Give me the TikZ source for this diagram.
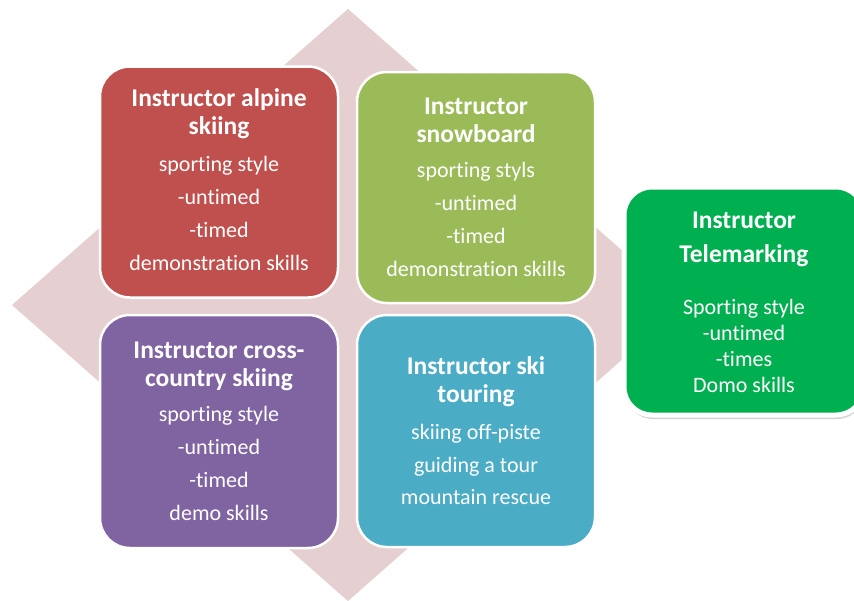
\documentclass[tikz,border=0pt]{standalone}
\usepackage{fontspec}
\setmainfont{Carlito}[Ligatures=NoCommon]
\usetikzlibrary{positioning, shadows}
\definecolor{diamondpink}{RGB}{230,207,208}
\definecolor{alpinered}{RGB}{192,80,77}
\definecolor{boardgreen}{RGB}{155,187,89}
\definecolor{crosspurple}{RGB}{128,100,162}
\definecolor{touringblue}{RGB}{75,172,198}
\definecolor{telegreen}{RGB}{0,176,80}

\begin{document}
\begin{tikzpicture}[x=1pt, y=-1pt,
    ibox/.style={draw=white, line width=2.5pt, rounded corners=30pt,
                 minimum width=238pt, minimum height=231pt},
    ititle/.style={text=white, align=center, inner sep=0pt,
                   font=\fontsize{25.5}{28}\selectfont\bfseries},
    ibody/.style={text=white, align=center, inner sep=0pt,
                  font=\fontsize{22}{33}\selectfont}]
    \clip (0,0) rectangle (854,600);
    % background diamond
    \fill[diamondpink] (348,9) -- (684,305) -- (348,601) -- (12,305) -- cycle;
    % the four instructor boxes
    \node[ibox, fill=alpinered] (alpine) at (219,182) {};
    \node[ititle] (alpine title) at (219,114) {Instructor alpine\\skiing};
    \node[ibody] (alpine body) at (219,213.5) {sporting style\\-untimed\\-timed\\demonstration skills};

    \node[ibox, fill=boardgreen] (board) at (476,187.5) {};
    \node[ititle] (board title) at (476,120) {Instructor\\snowboard};
    \node[ibody] (board body) at (476,219.5) {sporting styls\\-untimed\\-timed\\demonstration skills};

    \node[ibox, fill=crosspurple, minimum height=233pt] (cross) at (219,431.5) {};
    \node[ititle] (cross title) at (219,366) {Instructor cross-\\country skiing};
    \node[ibody] (cross body) at (219,463.5) {sporting style\\-untimed\\-timed\\demo skills};

    \node[ibox, fill=touringblue, minimum height=232pt] (touring) at (476,431) {};
    \node[ititle] (touring title) at (476,382) {Instructor ski\\touring};
    \node[ibody, font=\fontsize{22}{32.5}\selectfont] (touring body) at (476,464.5) {skiing off-piste\\guiding a tour\\mountain rescue};

    % telemarking box
    \node[ibox, fill=telegreen, line width=5pt, rounded corners=28pt,
          minimum width=240pt, minimum height=228pt,
          drop shadow={shadow xshift=1pt, shadow yshift=-4pt, opacity=0.35}] (tele) at (744,301) {};
    \node[ititle, font=\fontsize{25.5}{34}\selectfont\bfseries] (tele title) at (744,239) {Instructor\\Telemarking};
    \node[ibody, font=\fontsize{22}{26}\selectfont] (tele body) at (744,346) {Sporting style\\-untimed\\-times\\Domo skills};
\end{tikzpicture}
\end{document}
